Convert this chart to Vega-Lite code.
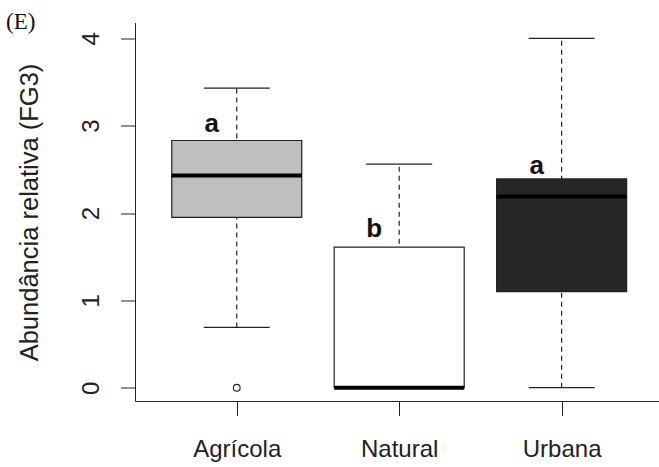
{
  "$schema": "https://vega.github.io/schema/vega-lite/v6.json",
  "autosize": {"type": "none"},
  "padding": {"left": 135, "top": 22.5, "right": 0, "bottom": 66},
  "width": 524,
  "height": 378.5,
  "background": "white",
  "title": {
    "text": "(E)",
    "anchor": "start",
    "frame": "group",
    "font": "Liberation Serif",
    "fontSize": 23,
    "fontWeight": "normal",
    "color": "#111",
    "baseline": "alphabetic",
    "offset": -29,
    "dx": -129
  },
  "datasets": {
    "caixas": [
      {"area": "Agrícola", "lo": 0.69, "q1": 1.95, "med": 2.43, "q3": 2.83, "hi": 3.43},
      {"area": "Natural", "lo": 0, "q1": 0, "med": 0, "q3": 1.61, "hi": 2.56},
      {"area": "Urbana", "lo": 0, "q1": 1.10, "med": 2.19, "q3": 2.39, "hi": 4.0}
    ],
    "outliers": [
      {"area": "Agrícola", "v": 0}
    ],
    "letras": [
      {"area": "Agrícola", "letra": "a", "pos": 2.93},
      {"area": "Natural", "letra": "b", "pos": 1.73},
      {"area": "Urbana", "letra": "a", "pos": 2.45}
    ]
  },
  "config": {
    "font": "Liberation Sans",
    "view": {"stroke": null},
    "axis": {
      "grid": false,
      "domainColor": "#222",
      "domainWidth": 1,
      "tickColor": "#222",
      "tickWidth": 1,
      "tickSize": 14.5,
      "labelColor": "#222",
      "labelFontSize": 24,
      "labelFont": "Liberation Sans",
      "titleFont": "Liberation Sans",
      "titleFontSize": 25.5,
      "titleFontWeight": "normal",
      "titleColor": "#222"
    }
  },
  "encoding": {
    "x": {
      "field": "area",
      "type": "nominal",
      "sort": ["Agrícola", "Natural", "Urbana"],
      "scale": {"type": "point", "domain": ["Agrícola", "Natural", "Urbana"], "padding": 0.613, "align": 0.511},
      "axis": {
        "title": null,
        "labelAngle": 0,
        "labelBaseline": "alphabetic",
        "labelPadding": 41
      }
    }
  },
  "layer": [
    {
      "data": {"name": "caixas"},
      "mark": {"type": "rule", "strokeDash": [5, 4], "color": "#222", "strokeWidth": 1.2},
      "encoding": {
        "y": {
          "field": "lo",
          "type": "quantitative",
          "scale": {"domain": [-0.152, 4.181], "nice": false, "zero": false},
          "axis": {
            "title": "Abundância relativa (FG3)",
            "values": [0, 1, 2, 3, 4],
            "format": "d",
            "labelAngle": 270,
            "labelAlign": "center",
            "labelBaseline": "alphabetic",
            "labelPadding": 22,
            "titleAngle": 270,
            "titleAlign": "center",
            "titleBaseline": "alphabetic",
            "titleX": -98,
            "titleY": 189.5
          }
        },
        "y2": {"field": "hi"}
      }
    },
    {
      "data": {"name": "caixas"},
      "mark": {"type": "tick", "size": 66, "thickness": 1.2, "color": "#222", "opacity": 1},
      "encoding": {"y": {"field": "lo", "type": "quantitative"}}
    },
    {
      "data": {"name": "caixas"},
      "mark": {"type": "tick", "size": 66, "thickness": 1.2, "color": "#222", "opacity": 1},
      "encoding": {"y": {"field": "hi", "type": "quantitative"}}
    },
    {
      "data": {"name": "caixas"},
      "mark": {"type": "bar", "size": 130, "stroke": "#222", "strokeWidth": 1.2, "opacity": 1},
      "encoding": {
        "y": {"field": "q1", "type": "quantitative"},
        "y2": {"field": "q3"},
        "fill": {
          "field": "area",
          "type": "nominal",
          "scale": {"domain": ["Agrícola", "Natural", "Urbana"], "range": ["#bfbfbf", "#ffffff", "#262626"]},
          "legend": null
        }
      }
    },
    {
      "data": {"name": "caixas"},
      "mark": {"type": "tick", "size": 130, "thickness": 4, "color": "#000", "opacity": 1},
      "encoding": {"y": {"field": "med", "type": "quantitative"}}
    },
    {
      "data": {"name": "outliers"},
      "mark": {"type": "point", "shape": "circle", "filled": false, "size": 45, "stroke": "#222", "strokeWidth": 1.1, "opacity": 1},
      "encoding": {"y": {"field": "v", "type": "quantitative"}}
    },
    {
      "data": {"name": "letras"},
      "mark": {"type": "text", "fontSize": 26, "fontWeight": "bold", "color": "#111", "align": "center", "baseline": "alphabetic", "dx": -25},
      "encoding": {
        "y": {"field": "pos", "type": "quantitative"},
        "text": {"field": "letra"}
      }
    },
    {
      "mark": {"type": "rule", "color": "#222", "strokeWidth": 1},
      "encoding": {"y": {"datum": 4.181}}
    }
  ]
}
